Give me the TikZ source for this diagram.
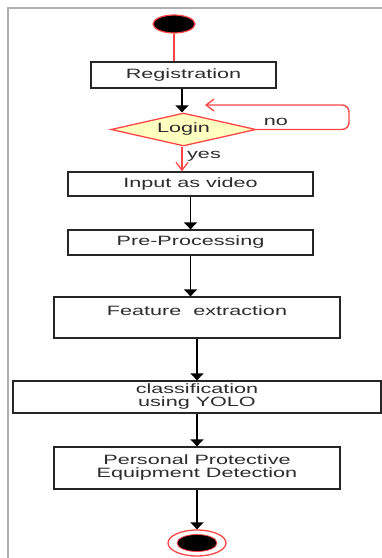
\documentclass[tikz,border=0pt]{standalone}
\usepackage{fontspec}
\setmainfont[FakeStretch=1.6]{Liberation Sans}
\usetikzlibrary{shapes.geometric,arrows.meta}
\definecolor{ured}{RGB}{255,70,70}
\definecolor{uyellow}{RGB}{255,255,192}
\definecolor{utext}{RGB}{45,45,45}
\definecolor{uframe}{RGB}{175,175,175}
\tikzset{
  box/.style={draw=black!85,line width=1.3pt,inner sep=0pt,text=utext,align=center,font=\fontsize{13.5}{13}\selectfont},
  lbl/.style={inner sep=0pt,text=utext,font=\fontsize{13.5}{13}\selectfont},
  blackarrow/.style={draw=black,line width=1.8pt,-{Triangle[width=13pt,length=7pt]}},
  redarrow/.style={draw=ured,line width=1.4pt,-{Straight Barb[width=12pt,length=8pt,line width=1.3pt]}},
  redline/.style={draw=ured,line width=1.6pt}
}
\begin{document}
\begin{tikzpicture}[x=1pt,y=-1pt]
\useasboundingbox (0,0) rectangle (382,558);
\fill[white] (0,0) rectangle (382,558);
% frame
\coordinate (fbl) at (8,560);
\coordinate (ftl) at (8,8);
\coordinate (ftr) at (384,8);
\draw[uframe,line width=1.4pt] (fbl) -- (ftl) -- (ftr);
% start
\node[ellipse,fill=black,draw=ured,line width=1.2pt,minimum width=42pt,minimum height=18pt,inner sep=0pt] (start) at (174,24) {};
% boxes
\node[box,minimum width=185pt,minimum height=26pt] (reg) at (183.5,75) {Registration};
\node[diamond,draw=ured,fill=uyellow,line width=1.3pt,minimum width=145pt,minimum height=33pt,aspect=4.4,inner sep=0pt,text=utext,font=\fontsize{13.5}{13}\selectfont] (login) at (183.5,129.5) {Login};
\node[box,minimum width=245pt,minimum height=24pt] (input) at (190.5,184) {Input as video};
\node[box,minimum width=245pt,minimum height=25pt] (pre) at (190.5,242.5) {Pre-Processing};
\node[box,minimum width=286pt,minimum height=41pt] (feat) at (197,317.5) {};
\node[lbl] (featlbl) at (197,311) {Feature\ \ extraction};
\node[box,minimum width=368pt,minimum height=32pt] (cls) at (197,397) {classification\\using YOLO};
\node[box,minimum width=286pt,minimum height=42pt] (ppe) at (197,468) {Personal Protective\\Equipment Detection};
% end
\node[ellipse,draw=ured,fill=white,line width=1.3pt,minimum width=58pt,minimum height=26pt,inner sep=0pt] (stop) at (197,543) {};
\node[ellipse,fill=black,draw=ured,line width=0.8pt,minimum width=40pt,minimum height=17pt,inner sep=0pt] (stopin) at (197,543) {};
% connectors
\draw[redline] (start.south) -- (start.south |- reg.north);
\draw[blackarrow] ([xshift=-1.5pt]reg.south) -- ([xshift=-1.5pt]login.north);
\coordinate (nocorner) at (349,105);
\coordinate (noend) at (205,105);
\draw[redarrow,rounded corners=7pt] (login.east) -| (nocorner) -- (noend);
\node[lbl] (nolbl) at (276,121.5) {no};
\draw[redarrow] ([xshift=-1.5pt]login.south) -- ([xshift=-1.5pt]login.south |- input.north);
\node[lbl] (yeslbl) at (204,156.5) {yes};
\draw[blackarrow] (input.south) -- (pre.north);
\draw[blackarrow] (pre.south) -- (pre.south |- feat.north);
\draw[blackarrow] (feat.south) -- (cls.north);
\draw[blackarrow] (cls.south) -- (ppe.north);
\draw[blackarrow] (ppe.south) -- (stop.north);
\end{tikzpicture}
\end{document}
